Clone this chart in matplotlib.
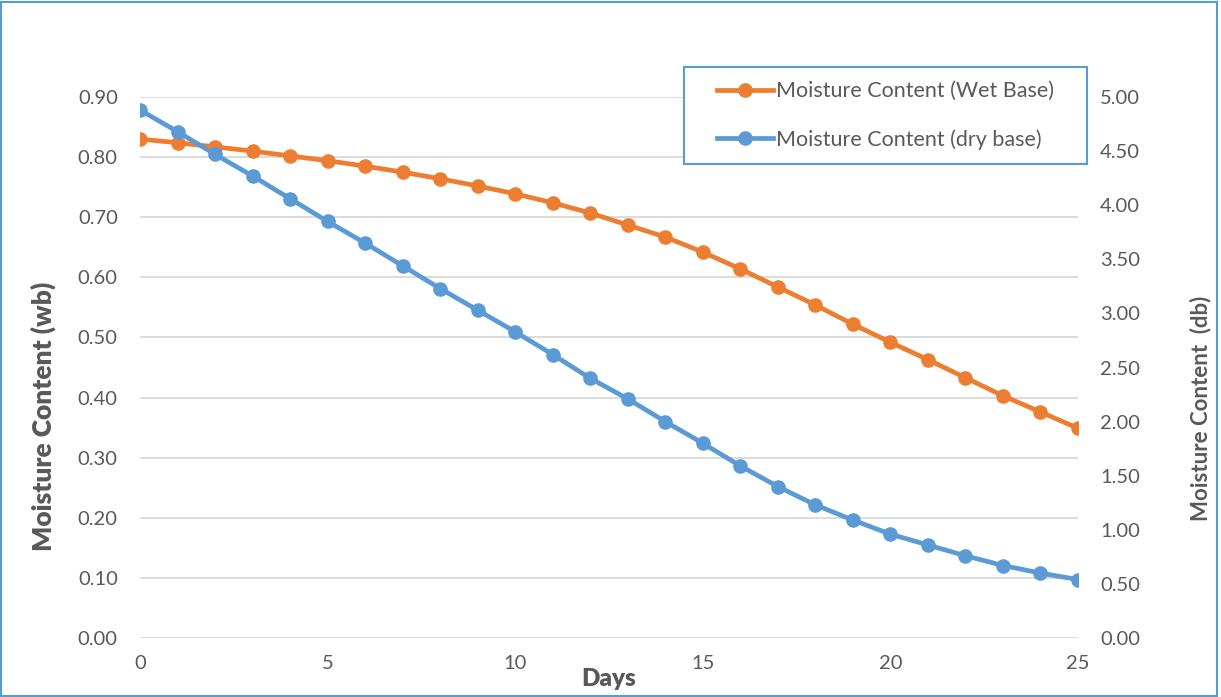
import matplotlib.pyplot as plt
from matplotlib.patches import Rectangle

days = list(range(26))
wet_base = [0.830, 0.824, 0.817, 0.810, 0.802, 0.794, 0.785, 0.775, 0.764, 0.752,
            0.739, 0.724, 0.707, 0.687, 0.667, 0.642, 0.614, 0.584, 0.554, 0.522,
            0.492, 0.463, 0.433, 0.403, 0.376, 0.349]
dry_base = [4.88, 4.68, 4.47, 4.27, 4.06, 3.85, 3.65, 3.44, 3.23, 3.03,
            2.83, 2.62, 2.40, 2.21, 2.00, 1.80, 1.59, 1.40, 1.23, 1.09,
            0.96, 0.86, 0.76, 0.67, 0.60, 0.54]
left_ticks = [i / 10 for i in range(10)]
right_ticks = [i / 2 for i in range(11)]

plt.rcParams['font.family'] = ['Lato', 'DejaVu Sans']
orange = "#ED7D31"
blue = "#5B9BD5"
txt = "#595959"

W, H = 1221, 697
fig = plt.figure(figsize=(W / 100, H / 100), dpi=100)
ax = fig.add_axes([140 / W, 1 - 638 / H, (1078 - 140) / W, (638 - 97) / H])
ax2 = ax.twinx()

l1, = ax.plot(days, wet_base, color=orange, lw=3.4, marker="o", ms=9.5,
              label="Moisture Content (Wet Base)")
l2, = ax2.plot(days, dry_base, color=blue, lw=3.4, marker="o", ms=9.5,
               label="Moisture Content (dry base)")

ax.set_xlim(0, 25)
ax.set_ylim(0, 0.9)
ax2.set_ylim(0, 5)
ax.set_xticks([0, 5, 10, 15, 20, 25])
ax.set_yticks(left_ticks)
ax.set_yticklabels([f"{v:.2f}" for v in left_ticks])
ax2.set_yticks(right_ticks)
ax2.set_yticklabels([f"{v:.2f}" for v in right_ticks])
ax.grid(axis="y", color="#D9D9D9", lw=1.3)
ax.set_axisbelow(True)
for a in (ax, ax2):
    for s in a.spines.values():
        s.set_visible(False)
    a.tick_params(length=0, labelsize=14.5, colors=txt)
ax.tick_params(axis="y", pad=16)
ax2.tick_params(axis="y", pad=16)
ax.tick_params(axis="x", pad=12)

ax.set_ylabel("Moisture Content (wb)", fontsize=19, fontweight="heavy", color=txt, va="center")
ax.yaxis.set_label_coords(-0.103, 0.41)
ax2.set_ylabel("Moisture Content  (db)", fontsize=16, fontweight="bold", color=txt, va="center")
ax2.yaxis.set_label_coords(1.131, 0.425)
ax.set_xlabel("Days", fontsize=17.5, fontweight="heavy", color=txt, va="center")
ax.xaxis.set_label_coords(0.5, -0.076)

# legend box: white fill above the gridlines
bx0, bx1, by0, by1 = 684, 1087, 67, 164
ax2.add_patch(Rectangle((bx0 / W, 1 - by1 / H), (bx1 - bx0) / W, (by1 - by0) / H,
                        transform=fig.transFigure, facecolor="white", edgecolor=blue,
                        lw=1.5, clip_on=False, zorder=5))
leg = fig.legend(handles=[l1, l2], loc="center",
                 bbox_to_anchor=((bx0 + bx1) / 2 / W, 1 - (by0 + by1) / 2 / H),
                 fontsize=15.5, frameon=False, handlelength=2.6, handletextpad=0.1,
                 labelspacing=1.3, borderpad=0, labelcolor=txt)

fig.patches.append(Rectangle((0.001, 0.001), 0.996, 0.996, transform=fig.transFigure,
                             fill=False, edgecolor=blue, lw=1.5))

fig.savefig("out.png", dpi=100)
